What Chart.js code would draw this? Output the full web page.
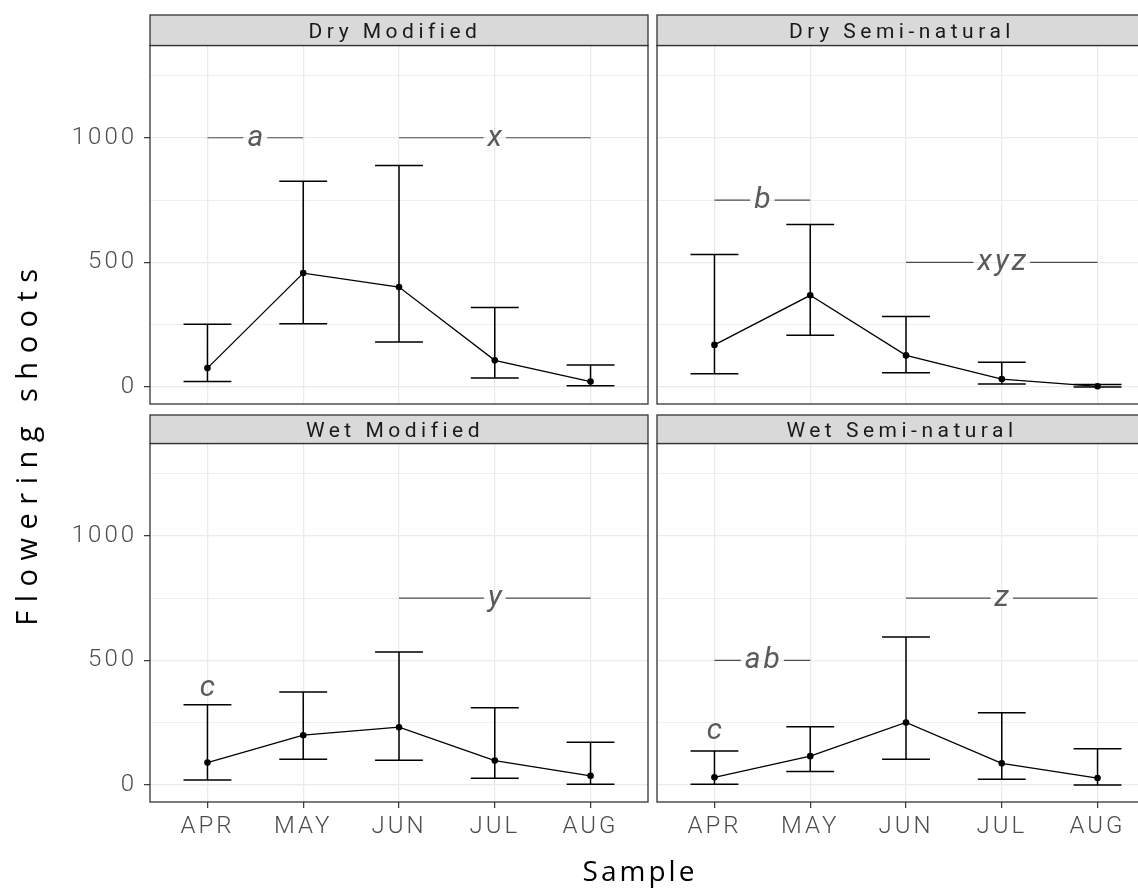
<!DOCTYPE html>
<html><head><meta charset="utf-8">
<script src="https://cdn.jsdelivr.net/npm/chart.js@4.4.0/dist/chart.umd.min.js"></script>
<style>
html,body{margin:0;padding:0;background:#fff;width:1138px;height:889px;overflow:hidden;position:relative;}
canvas{position:absolute;left:0;top:0;}
.title{position:absolute;font-family:'Open Sans',sans-serif;color:#000;white-space:nowrap;line-height:34px;text-align:center;}
#ytitle{left:-174px;top:426px;width:400px;transform:rotate(-90deg);letter-spacing:8.5px;font-size:29px;}
#xtitle{left:490px;top:853px;width:300px;letter-spacing:3px;font-size:28px;}
</style></head><body>
<canvas id="c0" width="1180" height="889"></canvas>
<canvas id="c1" width="1180" height="889"></canvas>
<canvas id="c2" width="1180" height="889"></canvas>
<canvas id="c3" width="1180" height="889"></canvas>
<div id="ytitle" class="title">Flowering shoots</div>
<div id="xtitle" class="title">Sample</div>
<script>
// ---- data ----
const months = ['APR','MAY','JUN','JUL','AUG'];
const panelTitles = ['Dry Modified','Dry Semi-natural','Wet Modified','Wet Semi-natural'];

const dryModMean = [76, 457, 401, 107, 22];
const dryModLow  = [22, 254, 181, 36, 5];
const dryModHigh = [252, 825, 889, 319, 88];

const drySemiMean = [169, 368, 127, 32, 3];
const drySemiLow  = [53, 208, 57, 12, 0];
const drySemiHigh = [532, 652, 283, 99, 10];

const wetModMean = [90, 200, 232, 98, 37];
const wetModLow  = [20, 103, 99, 27, 3];
const wetModHigh = [322, 373, 534, 310, 172];

const wetSemiMean = [31, 116, 251, 87, 28];
const wetSemiLow  = [3, 54, 103, 23, 0];
const wetSemiHigh = [137, 234, 594, 290, 146];

const yMajorTicks = [0, 500, 1000];
const yMinorTicks = [250, 750, 1250];
const yRange = [-68, 1370];

// significance bars: from month, to month, y value, letter(s)
const dryModBars  = [['APR','MAY',1000,'a'], ['JUN','AUG',1000,'x']];
const drySemiBars = [['APR','MAY',750,'b'], ['JUN','AUG',500,'xyz']];
const wetModBars  = [['JUN','AUG',750,'y']];
const wetSemiBars = [['APR','MAY',500,'ab'], ['JUN','AUG',750,'z']];
// stand-alone letters: month, y value, letter
const dryModTexts  = [];
const drySemiTexts = [];
const wetModTexts  = [['APR',390,'c']];
const wetSemiTexts = [['APR',215,'c']];

// ---- layout ----
const CW = 1180, CH = 889, YW = 90, XH = 60;
const panels = [
  {mean:dryModMean, low:dryModLow, high:dryModHigh, bars:dryModBars, texts:dryModTexts,
   L:150, R:648, T:45.5, B:404, stripTop:15, showY:true, showX:false},
  {mean:drySemiMean, low:drySemiLow, high:drySemiHigh, bars:drySemiBars, texts:drySemiTexts,
   L:657, R:1155, T:45.5, B:404, stripTop:15, showY:false, showX:false},
  {mean:wetModMean, low:wetModLow, high:wetModHigh, bars:wetModBars, texts:wetModTexts,
   L:150, R:648, T:443.5, B:802, stripTop:415, showY:true, showX:true},
  {mean:wetSemiMean, low:wetSemiLow, high:wetSemiHigh, bars:wetSemiBars, texts:wetSemiTexts,
   L:657, R:1155, T:443.5, B:802, stripTop:415, showY:false, showX:true}
];

const isMajor = v => yMajorTicks.includes(v);
const mIdx = m => months.indexOf(m) + 1;

function decorPlugin(p, title) {
  return {
    id: 'decor',
    beforeDraw(chart) {
      chart.ctx.letterSpacing = '3px';
    },
    beforeDatasetsDraw(chart) {
      const ctx = chart.ctx, xs = chart.scales.x, ys = chart.scales.y;
      ctx.save();
      // significance bars & letters
      const fs = 30;
      ctx.font = 'italic 400 ' + fs + 'px Roboto';
      ctx.letterSpacing = '3px';
      ctx.textAlign = 'center';
      ctx.textBaseline = 'alphabetic';
      ctx.strokeStyle = '#4D4D4D';
      ctx.fillStyle = '#5A5A5A';
      ctx.lineWidth = 1.2;
      p.bars.forEach(([from, to, val, txt]) => {
        const x1 = xs.getPixelForValue(mIdx(from));
        const x2 = xs.getPixelForValue(mIdx(to));
        const y = ys.getPixelForValue(val);
        const xm = (x1 + x2) / 2;
        const tw = ctx.measureText(txt).width - 3;
        const gap = tw / 2 + 4;
        ctx.beginPath();
        ctx.moveTo(x1, y); ctx.lineTo(xm - gap, y);
        ctx.moveTo(xm + gap, y); ctx.lineTo(x2, y);
        ctx.stroke();
        ctx.fillText(txt, xm + 1.5, y + fs * 0.26);
      });
      p.texts.forEach(([at, val, txt]) => {
        const x = xs.getPixelForValue(mIdx(at));
        const y = ys.getPixelForValue(val);
        ctx.fillText(txt, x + 1.5, y + fs * 0.26);
      });
      // error bars
      const half = xs.getPixelForValue(1.25) - xs.getPixelForValue(1);
      ctx.strokeStyle = '#000';
      ctx.lineWidth = 1.5;
      ctx.beginPath();
      months.forEach((m, i) => {
        const x = xs.getPixelForValue(i + 1);
        const yl = ys.getPixelForValue(p.low[i]);
        const yh = ys.getPixelForValue(p.high[i]);
        ctx.moveTo(x, yl); ctx.lineTo(x, yh);
        ctx.moveTo(x - half, yh); ctx.lineTo(x + half, yh);
        ctx.moveTo(x - half, yl); ctx.lineTo(x + half, yl);
      });
      ctx.stroke();
      ctx.restore();
    },
    afterDraw(chart) {
      const ctx = chart.ctx, a = chart.chartArea;
      ctx.save();
      ctx.strokeStyle = '#333333';
      ctx.lineWidth = 1.3;
      ctx.strokeRect(a.left, a.top, a.right - a.left, a.bottom - a.top);
      // strip
      const sh = a.top - p.stripTop;
      ctx.fillStyle = '#D9D9D9';
      ctx.fillRect(a.left, p.stripTop, a.right - a.left, sh);
      ctx.strokeRect(a.left, p.stripTop, a.right - a.left, sh);
      ctx.fillStyle = '#1A1A1A';
      ctx.font = '400 21px Roboto';
      ctx.letterSpacing = '4.5px';
      ctx.textAlign = 'center';
      ctx.textBaseline = 'alphabetic';
      ctx.fillText(title, (a.left + a.right) / 2 - 4, p.stripTop + sh / 2 + 7.5);
      ctx.restore();
    }
  };
}

panels.forEach((p, k) => {
  const padLeft = p.showY ? p.L - YW : p.L;
  const padBottom = p.showX ? CH - p.B - XH : CH - p.B;
  new Chart(document.getElementById('c' + k), {
    type: 'line',
    data: {
      datasets: [{
        data: p.mean.map((v, i) => ({x: i + 1, y: v})),
        borderColor: '#000',
        borderWidth: 1.3,
        pointRadius: 3.3,
        pointBackgroundColor: '#000',
        pointBorderColor: '#000',
        pointBorderWidth: 0,
        tension: 0,
        fill: false,
        clip: false
      }]
    },
    options: {
      responsive: false,
      animation: false,
      events: [],
      devicePixelRatio: 1,
      layout: {padding: {left: padLeft, top: p.T, right: CW - p.R, bottom: padBottom}},
      plugins: {legend: {display: false}, tooltip: {enabled: false}, title: {display: false}},
      scales: {
        x: {
          type: 'linear',
          min: 0.4, max: 5.6,
          offset: false,
          afterBuildTicks: s => { s.ticks = months.map((m, i) => ({value: i + 1})); },
          afterFit: s => { s.height = p.showX ? XH : 0; },
          border: {display: false},
          grid: {color: '#EBEBEB', lineWidth: 1.3, drawTicks: p.showX, tickLength: 6,
                 tickColor: '#333333', tickWidth: 1.2, offset: false},
          ticks: {display: p.showX, autoSkip: false, maxRotation: 0, minRotation: 0, padding: 5,
                  color: '#4D4D4D', font: {family: 'Roboto', size: 24, weight: 300},
                  callback: v => months[v - 1]}
        },
        y: {
          type: 'linear',
          min: yRange[0], max: yRange[1],
          afterBuildTicks: s => { s.ticks = yMajorTicks.concat(yMinorTicks).sort((a, b) => a - b).map(v => ({value: v})); },
          afterFit: s => { s.width = p.showY ? YW : 0; },
          border: {display: false},
          grid: {
            color: '#EBEBEB',
            lineWidth: c => (c.tick && isMajor(c.tick.value)) ? 1.3 : 0.8,
            drawTicks: p.showY, tickLength: 6,
            tickColor: c => (c.tick && isMajor(c.tick.value)) ? '#333333' : 'rgba(0,0,0,0)',
            tickWidth: 1.2
          },
          ticks: {display: p.showY, autoSkip: false, padding: 7,
                  color: '#4D4D4D', font: {family: 'Roboto', size: 24, weight: 300},
                  callback: v => isMajor(v) ? String(v) : ''}
        }
      }
    },
    plugins: [decorPlugin(p, panelTitles[k])]
  });
});
</script>
</body></html>
